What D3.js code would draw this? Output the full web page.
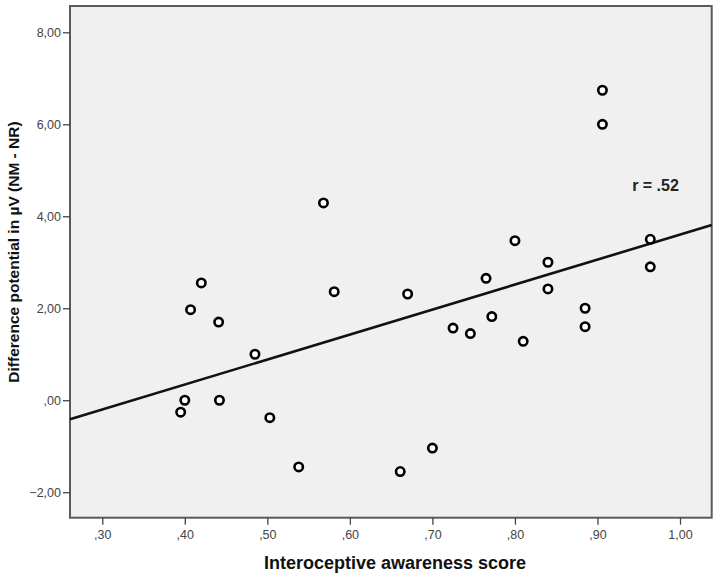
<!doctype html>
<html>
<head>
<meta charset="UTF-8">
<title>Interoceptive awareness vs difference potential</title>
<script src="https://cdnjs.cloudflare.com/ajax/libs/d3/7.8.5/d3.min.js"></script>
<style>
    body { margin: 0; background: #fff; }
    svg text { font-family: "Liberation Sans", Arial, sans-serif; }
</style>
</head>
<body>
<div id="chart"></div>
<script>
    // awareness score / difference potential (µV)
    var awareness = [0.420, 0.407, 0.441, 0.485, 0.400, 0.395, 0.442, 0.503, 0.538, 0.581,
                     0.568, 0.670, 0.661, 0.700, 0.725, 0.746, 0.772, 0.765, 0.800, 0.810,
                     0.840, 0.840, 0.885, 0.885, 0.906, 0.906, 0.964, 0.964];
    var potential = [2.55, 1.97, 1.70, 1.00, 0.00, -0.26, 0.00, -0.38, -1.45, 2.36,
                     4.29, 2.31, -1.55, -1.04, 1.57, 1.45, 1.82, 2.65, 3.47, 1.28,
                     3.00, 2.42, 2.00, 1.60, 6.74, 6.00, 3.50, 2.90];

    var xTicks = [0.3, 0.4, 0.5, 0.6, 0.7, 0.8, 0.9, 1.0];
    var yTicks = [-2, 0, 2, 4, 6, 8];

    // fit line  y = a + b*x
    var fitIntercept = -1.833,
        fitSlope = 5.434;
    var rLabel = "r = .52";

    var width = 720,
        height = 577;
    var plotL = 70, plotR = 711.7, plotT = 6, plotB = 517.7;

    var x = d3.scaleLinear().domain([0.2609, 1.0384]).range([plotL, plotR]);
    var y = d3.scaleLinear().domain([-2.554, 8.572]).range([plotB, plotT]);

    var fmt = function (d) {
        var s = d3.format(".2f")(d).replace(".", ",");
        return s.replace(/^0,/, ",").replace(/^-0,/, "-,");
    };

    var svg = d3.select("#chart")
        .append("svg")
        .attr("width", width)
        .attr("height", height);

    svg.append("rect")
        .attr("x", plotL)
        .attr("y", plotT)
        .attr("width", plotR - plotL)
        .attr("height", plotB - plotT)
        .style("fill", "#f0f0f0")
        .style("stroke", "#5a5a5a")
        .style("stroke-width", 2);

    var xAxis = svg.append("g")
        .attr("transform", "translate(0," + plotB + ")")
        .call(d3.axisBottom(x).tickValues(xTicks).tickFormat(fmt).tickSize(7).tickPadding(5));
    var yAxis = svg.append("g")
        .attr("transform", "translate(" + plotL + ",0)")
        .call(d3.axisLeft(y).tickValues(yTicks).tickFormat(fmt).tickSize(7).tickPadding(2));

    [xAxis, yAxis].forEach(function (ax) {
        ax.select(".domain").remove();
        ax.selectAll(".tick line").style("stroke", "#444").style("stroke-width", 1.3);
        ax.selectAll(".tick text")
            .style("font-size", "12.5px")
            .style("fill", "#444")
            .style("font-family", "'Liberation Sans', Arial, sans-serif");
    });

    // regression line
    var x0 = x.domain()[0], x1 = x.domain()[1];
    svg.append("line")
        .attr("x1", x(x0))
        .attr("y1", y(fitIntercept + fitSlope * x0))
        .attr("x2", x(x1))
        .attr("y2", y(fitIntercept + fitSlope * x1))
        .style("stroke", "#111")
        .style("stroke-width", 2.6);

    var pts = awareness.map(function (d, i) { return { a: d, p: potential[i] }; });

    svg.selectAll(".pt")
        .data(pts)
        .enter()
        .append("circle")
        .attr("class", "pt")
        .attr("cx", function (d) { return x(d.a); })
        .attr("cy", function (d) { return y(d.p); })
        .attr("r", 4.2)
        .style("fill", "#fff")
        .style("stroke", "#000")
        .style("stroke-width", 2.6);

    svg.append("text")
        .attr("x", x(0.942))
        .attr("y", y(4.55))
        .text(rLabel)
        .style("font-size", "16px")
        .style("font-weight", "bold")
        .style("fill", "#222");

    svg.append("text")
        .attr("x", 395)
        .attr("y", 569)
        .attr("text-anchor", "middle")
        .text("Interoceptive awareness score")
        .style("font-size", "18px")
        .style("font-weight", "bold")
        .style("fill", "#111");

    svg.append("text")
        .attr("transform", "translate(19," + 252 + ") rotate(-90)")
        .attr("text-anchor", "middle")
        .text("Difference potential in µV (NM - NR)")
        .style("font-size", "15.5px")
        .style("font-weight", "bold")
        .style("fill", "#111");
</script>
</body>
</html>
